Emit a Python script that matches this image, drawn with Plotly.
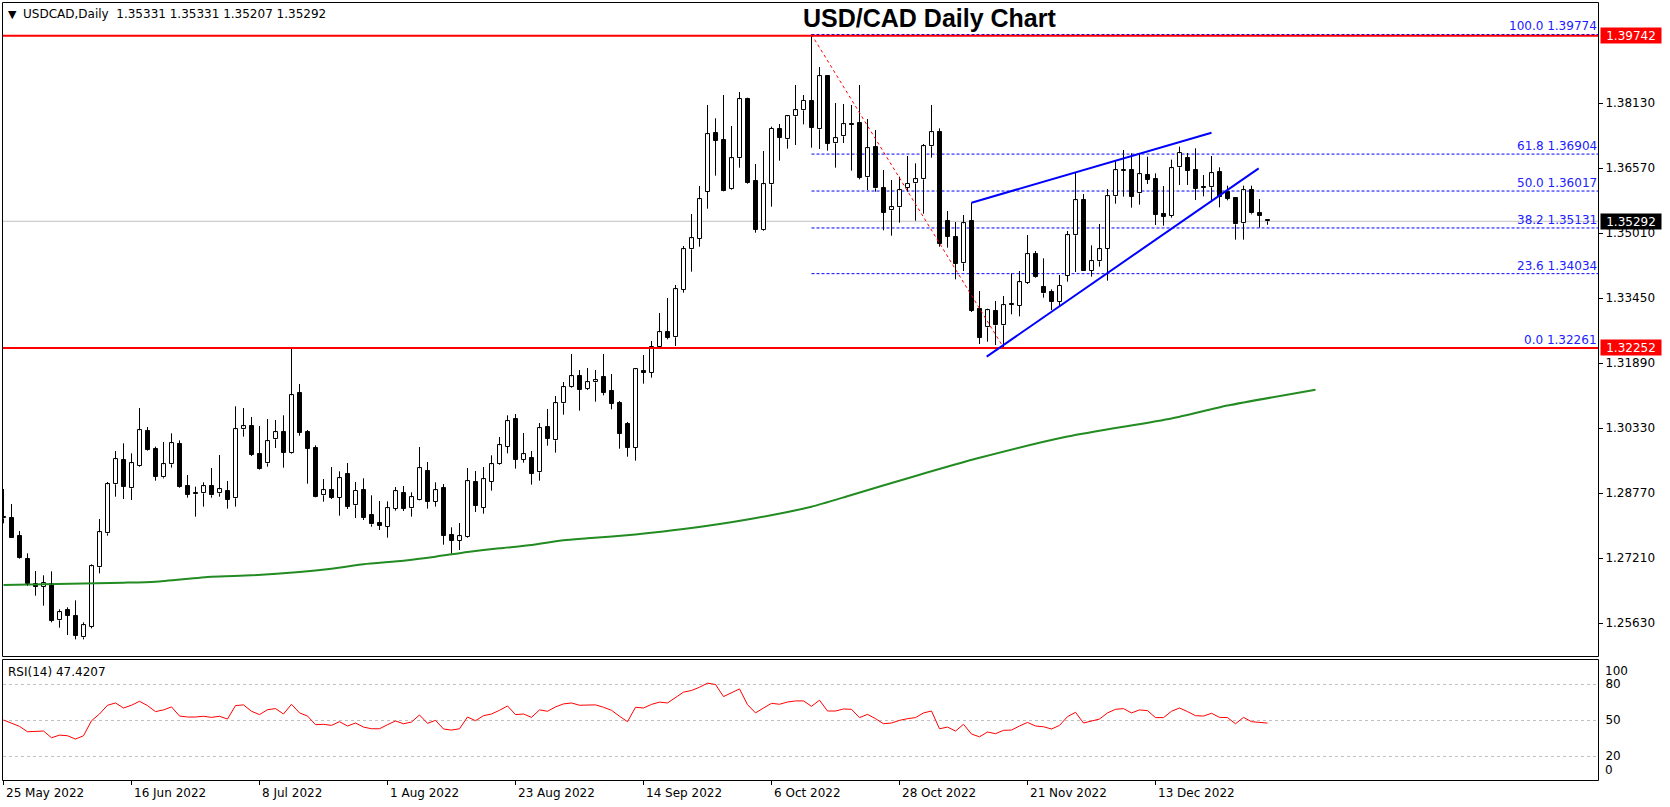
import plotly.graph_objects as go

W, H = 1670, 807

# ---------------- data ----------------
OPEN = [1.28186, 1.28162, 1.27730, 1.27178, 1.26586, 1.26522, 1.26578, 1.25714, 1.25954, 1.25810,
        1.25306, 1.25562, 1.26986, 1.27802, 1.28978, 1.29554, 1.28882, 1.29426, 1.30250, 1.29818,
        1.29146, 1.29458, 1.29938, 1.28938, 1.28762, 1.28762, 1.28930, 1.28762, 1.28810, 1.28642,
        1.30298, 1.30370, 1.29698, 1.29482, 1.30058, 1.30226, 1.29738, 1.31162, 1.30226, 1.29842,
        1.28714, 1.28834, 1.28658, 1.29226, 1.28474, 1.28834, 1.28242, 1.28050, 1.27962, 1.28394,
        1.28762, 1.28402, 1.28610, 1.29290, 1.28562, 1.28882, 1.27754, 1.27626, 1.27706, 1.29026,
        1.28418, 1.29042, 1.29458, 1.29882, 1.30538, 1.29570, 1.29602, 1.29266, 1.30346, 1.30034,
        1.30922, 1.31306, 1.31570, 1.31274, 1.31426, 1.31546, 1.31210, 1.30930, 1.30418, 1.29858,
        1.31690, 1.31658, 1.32282, 1.32626, 1.32506, 1.33642, 1.34618, 1.34874, 1.36002, 1.37410,
        1.37242, 1.36058, 1.36802, 1.38226, 1.36250, 1.35082, 1.36178, 1.37506, 1.37258, 1.37810,
        1.37954, 1.38178, 1.37498, 1.38770, 1.37162, 1.37330, 1.37626, 1.37642, 1.36346, 1.37066,
        1.36082, 1.35554, 1.35626, 1.36098, 1.36202, 1.36298, 1.37090, 1.37426, 1.35290, 1.34914,
        1.34282, 1.35298, 1.33186, 1.32746, 1.33130, 1.32794, 1.33290, 1.33266, 1.33818, 1.34498,
        1.33706, 1.33594, 1.33362, 1.33986, 1.34954, 1.35794, 1.34106, 1.34330, 1.34634, 1.35890,
        1.36514, 1.36514, 1.35962, 1.36394, 1.36298, 1.35466, 1.35426, 1.36586, 1.36810, 1.36522,
        1.36106, 1.36106, 1.36466, 1.35994, 1.35842, 1.35242, 1.36034, 1.35490, 1.35331]
HIGH = [1.28866, 1.28506, 1.27858, 1.27322, 1.26898, 1.26794, 1.26890, 1.25978, 1.26026, 1.26194,
        1.25666, 1.27058, 1.28146, 1.29034, 1.29778, 1.29962, 1.29722, 1.30810, 1.30354, 1.29882,
        1.29994, 1.30202, 1.30034, 1.29202, 1.28922, 1.29026, 1.29370, 1.29682, 1.29058, 1.30850,
        1.30810, 1.30594, 1.30378, 1.30546, 1.30522, 1.30634, 1.32258, 1.31386, 1.30282, 1.29914,
        1.29106, 1.29394, 1.29290, 1.29490, 1.29034, 1.29122, 1.28714, 1.28578, 1.28570, 1.28914,
        1.28938, 1.28786, 1.29874, 1.29514, 1.29026, 1.28986, 1.27946, 1.28050, 1.29370, 1.29298,
        1.29394, 1.29674, 1.30114, 1.30634, 1.30666, 1.30210, 1.29778, 1.30450, 1.30786, 1.31098,
        1.31434, 1.32106, 1.31722, 1.31770, 1.31722, 1.32106, 1.31626, 1.30978, 1.30474, 1.31770,
        1.32082, 1.32418, 1.33090, 1.33450, 1.33762, 1.34698, 1.35466, 1.36138, 1.38082, 1.37762,
        1.38322, 1.37578, 1.38394, 1.38258, 1.36666, 1.36978, 1.37562, 1.37626, 1.37826, 1.38562,
        1.38322, 1.39774, 1.38994, 1.38802, 1.38130, 1.38106, 1.38082, 1.38562, 1.37746, 1.37482,
        1.36522, 1.36282, 1.36362, 1.36858, 1.36682, 1.37146, 1.38082, 1.37522, 1.35538, 1.35274,
        1.35442, 1.35738, 1.33618, 1.33194, 1.33378, 1.33498, 1.34042, 1.34098, 1.34962, 1.34578,
        1.34402, 1.33658, 1.34002, 1.35058, 1.36458, 1.35946, 1.34714, 1.35226, 1.36066, 1.36746,
        1.37002, 1.36922, 1.36922, 1.36842, 1.36442, 1.36138, 1.36770, 1.37082, 1.36930, 1.37042,
        1.36402, 1.36858, 1.36586, 1.36146, 1.35858, 1.36146, 1.36146, 1.35826, 1.35331]
LOW = [1.28042, 1.27690, 1.27194, 1.26546, 1.26306, 1.26066, 1.25666, 1.25538, 1.25362, 1.25258,
       1.25258, 1.25522, 1.26842, 1.27746, 1.28682, 1.28626, 1.28602, 1.29402, 1.29786, 1.29066,
       1.29120, 1.29378, 1.28898, 1.28658, 1.28202, 1.28442, 1.28658, 1.28682, 1.28394, 1.28442,
       1.30122, 1.29658, 1.29330, 1.29402, 1.29850, 1.29378, 1.29714, 1.30146, 1.28994, 1.28666,
       1.28562, 1.28626, 1.28226, 1.28386, 1.28170, 1.28122, 1.27962, 1.27882, 1.27698, 1.28346,
       1.28338, 1.28202, 1.28594, 1.28394, 1.28442, 1.27530, 1.27322, 1.27402, 1.27690, 1.28314,
       1.28274, 1.28826, 1.29442, 1.29722, 1.29354, 1.29498, 1.28970, 1.29066, 1.29906, 1.29738,
       1.30650, 1.31290, 1.30746, 1.31242, 1.30962, 1.31114, 1.30778, 1.29834, 1.29642, 1.29546,
       1.31394, 1.31538, 1.32266, 1.32458, 1.32298, 1.33578, 1.34082, 1.34682, 1.35594, 1.36386,
       1.36010, 1.36042, 1.36578, 1.36194, 1.35018, 1.35066, 1.35642, 1.36746, 1.37034, 1.37122,
       1.37618, 1.37058, 1.37026, 1.36986, 1.36578, 1.37170, 1.36506, 1.36298, 1.36042, 1.36002,
       1.35074, 1.34946, 1.35258, 1.36002, 1.35306, 1.35474, 1.36818, 1.34682, 1.34658, 1.33898,
       1.34098, 1.33114, 1.32346, 1.32402, 1.32322, 1.32261, 1.33058, 1.33010, 1.33786, 1.33938,
       1.33458, 1.33162, 1.33258, 1.33842, 1.34074, 1.34098, 1.33962, 1.34202, 1.33866, 1.35714,
       1.35882, 1.35618, 1.35690, 1.36186, 1.35202, 1.35186, 1.35378, 1.36162, 1.36162, 1.35802,
       1.35890, 1.35762, 1.35626, 1.35794, 1.34850, 1.34850, 1.35458, 1.35138, 1.35207]
CLOSE = [1.28162, 1.27698, 1.27218, 1.26578, 1.26522, 1.26618, 1.25706, 1.25906, 1.25826, 1.25346,
         1.25594, 1.27010, 1.27826, 1.28978, 1.29578, 1.28922, 1.29482, 1.30274, 1.29810, 1.29162,
         1.29458, 1.29962, 1.28922, 1.28730, 1.28738, 1.28930, 1.28714, 1.28858, 1.28610, 1.30298,
         1.30370, 1.29682, 1.29354, 1.30010, 1.30226, 1.29738, 1.31114, 1.30218, 1.29834, 1.28682,
         1.28834, 1.28658, 1.29122, 1.28442, 1.28826, 1.28178, 1.28018, 1.27986, 1.28402, 1.28810,
         1.28394, 1.28666, 1.29362, 1.28562, 1.28834, 1.27746, 1.27626, 1.27730, 1.29050, 1.28466,
         1.29098, 1.29458, 1.29914, 1.30490, 1.29570, 1.29698, 1.29234, 1.30322, 1.30074, 1.30922,
         1.31306, 1.31570, 1.31250, 1.31426, 1.31474, 1.31178, 1.30914, 1.30194, 1.29858, 1.31738,
         1.31658, 1.32282, 1.32626, 1.32498, 1.33658, 1.34618, 1.34882, 1.35818, 1.37378, 1.37226,
         1.36026, 1.36802, 1.38218, 1.36210, 1.35082, 1.36178, 1.37506, 1.37298, 1.37810, 1.37954,
         1.38178, 1.37538, 1.38770, 1.37154, 1.37282, 1.37618, 1.37610, 1.36338, 1.37042, 1.36082,
         1.35498, 1.35626, 1.36034, 1.36194, 1.36298, 1.37090, 1.37426, 1.34754, 1.34922, 1.34274,
         1.35242, 1.33138, 1.32498, 1.33154, 1.32794, 1.33274, 1.33282, 1.33826, 1.34498, 1.33954,
         1.33562, 1.33362, 1.33746, 1.34954, 1.35794, 1.34106, 1.34330, 1.34618, 1.35890, 1.36514,
         1.36522, 1.35882, 1.36418, 1.36290, 1.35450, 1.35402, 1.36562, 1.36922, 1.36506, 1.36074,
         1.36098, 1.36442, 1.35882, 1.35834, 1.35218, 1.36034, 1.35482, 1.35426, 1.35292]
RSI = [50.0, 47.5, 44.7, 40.2, 40.2, 40.8, 35.2, 37.4, 36.9, 34.1,
       36.9, 49.4, 55.0, 62.3, 64.2, 60.0, 62.3, 65.6, 62.0, 57.0,
       58.4, 60.9, 53.3, 52.5, 52.5, 53.1, 52.2, 53.1, 50.8, 62.0,
       62.6, 57.3, 54.5, 58.6, 59.5, 55.0, 63.1, 55.9, 53.3, 46.1,
       46.4, 45.5, 48.6, 45.0, 47.5, 44.1, 42.7, 42.7, 46.1, 49.2,
       46.9, 48.3, 54.2, 47.2, 49.7, 42.5, 41.6, 42.7, 52.5, 49.4,
       53.6, 55.0, 58.1, 61.7, 54.5, 55.0, 52.2, 58.4, 57.3, 60.9,
       63.4, 64.2, 62.3, 62.6, 62.6, 60.6, 58.1, 53.1, 48.6, 60.6,
       60.0, 63.0, 64.9, 64.2, 68.4, 73.2, 74.6, 77.3, 80.7, 79.6,
       69.5, 72.6, 75.9, 62.8, 55.9, 60.0, 63.9, 63.1, 65.0, 65.9,
       65.9, 61.4, 66.5, 57.5, 57.5, 59.2, 58.9, 52.0, 54.7, 51.1,
       46.9, 47.5, 49.7, 51.1, 52.0, 55.9, 57.5, 42.7, 44.1, 40.8,
       46.4, 38.3, 36.0, 40.0, 38.6, 41.4, 41.6, 45.0, 48.0, 45.0,
       44.4, 42.5, 45.5, 52.8, 56.4, 47.5, 49.2, 50.8, 55.9, 58.9,
       59.5, 55.9, 58.4, 57.8, 52.0, 52.0, 57.3, 60.0, 57.0, 53.6,
       53.3, 55.6, 52.2, 52.0, 46.9, 52.2, 48.6, 48.3, 47.4207]
MA_BARS = [0, 15, 19, 26, 31, 37, 41, 45, 50, 54, 58, 62, 66, 70, 73, 79, 85, 93,
           101, 106, 114, 122, 133, 146, 153, 164]
MA_VALUES = [1.26562, 1.26618, 1.26642, 1.26762, 1.26794, 1.26874, 1.26954, 1.27062, 1.27146,
             1.27242, 1.27354, 1.27442, 1.27522, 1.27634, 1.27682, 1.27776, 1.27904, 1.28134,
             1.28440, 1.28722, 1.29180, 1.29615, 1.30126, 1.30560, 1.30868, 1.31250]

PRICE_TICKS = [1.38130, 1.36570, 1.35010, 1.33450, 1.31890, 1.30330, 1.28770, 1.27210, 1.25650]
PRICE_TICK_LABELS = ["1.38130", "1.36570", "1.35010", "1.33450", "1.31890", "1.30330",
                     "1.28770", "1.27210", "1.25630"]
DATE_TICK_BARS = [0, 16, 32, 48, 64, 80, 96, 112, 128, 144]
DATE_LABELS = ["25 May 2022", "16 Jun 2022", "8 Jul 2022", "1 Aug 2022", "23 Aug 2022",
               "14 Sep 2022", "6 Oct 2022", "28 Oct 2022", "21 Nov 2022", "13 Dec 2022"]
RSI_LEVELS = [20, 50, 80]

FIB_PCT = ["100.0", "61.8", "50.0", "38.2", "23.6", "0.0"]
FIB_PRICES = [1.39774, 1.36904, 1.36017, 1.35131, 1.34034, 1.32261]
FIB_START_BAR, FIB_END_BAR = 101, 125
RESISTANCE, SUPPORT = 1.39742, 1.32252
WEDGE_UPPER_BARS, WEDGE_UPPER_PRICES = [121, 151], [1.35738, 1.37418]
WEDGE_LOWER_BARS, WEDGE_LOWER_PRICES = [122.9, 156.9], [1.32042, 1.36562]

# ---------------- geometry ----------------
FONT = "DejaVu Sans"
PLOT_L, PLOT_R = 3, 1598
MAIN_T, MAIN_B = 2, 656
RSI_T, RSI_B = 660, 780
BAR_PX, X0_PX = 8.0, 3.5
X_MIN = (PLOT_L - X0_PX) / BAR_PX
X_MAX = (PLOT_R - X0_PX) / BAR_PX
PX_PER_UNIT = 4166.67
Y_MAX = PRICE_TICKS[0] + (103 - MAIN_T) / PX_PER_UNIT
Y_MIN = Y_MAX - (MAIN_B - MAIN_T) / PX_PER_UNIT


def px_x(px):
    return px / W


def px_y(py):
    return (H - py) / H


idx = list(range(len(OPEN)))
up = [i for i in idx if CLOSE[i] >= OPEN[i]]
dn = [i for i in idx if CLOSE[i] < OPEN[i]]
MIN_BODY = 0.00025


def bodies(ids):
    base, hgt = [], []
    for i in ids:
        lo, hi = min(OPEN[i], CLOSE[i]), max(OPEN[i], CLOSE[i])
        h = max(hi - lo, MIN_BODY)
        base.append((lo + hi) / 2 - h / 2)
        hgt.append(h)
    return base, hgt


wx, wy = [], []
for i in idx:
    top, bot = max(OPEN[i], CLOSE[i]), min(OPEN[i], CLOSE[i])
    if HIGH[i] > top:
        wx += [i, i, None]
        wy += [top, HIGH[i], None]
    if LOW[i] < bot:
        wx += [i, i, None]
        wy += [LOW[i], bot, None]

fig = go.Figure()
fig.add_trace(go.Scatter(x=MA_BARS, y=MA_VALUES, mode="lines",
                         line=dict(color="#228B22", width=2, shape="spline", smoothing=0.6),
                         xaxis="x", yaxis="y"))
b_up, h_up = bodies(up)
fig.add_trace(go.Bar(x=up, y=h_up, base=b_up, width=0.5,
                     marker=dict(color="white", line=dict(color="black", width=1)),
                     xaxis="x", yaxis="y"))
b_dn, h_dn = bodies(dn)
fig.add_trace(go.Bar(x=dn, y=h_dn, base=b_dn, width=0.5,
                     marker=dict(color="black", line=dict(color="black", width=1)),
                     xaxis="x", yaxis="y"))
fig.add_trace(go.Scatter(x=wx, y=wy, mode="lines", line=dict(color="black", width=1),
                         xaxis="x", yaxis="y", connectgaps=False))
fig.add_trace(go.Scatter(x=idx, y=RSI, mode="lines", line=dict(color="red", width=1),
                         xaxis="x2", yaxis="y2"))

shapes = []
# current price line
shapes.append(dict(type="line", xref="paper", yref="y", x0=px_x(PLOT_L), x1=px_x(PLOT_R),
                   y0=CLOSE[-1], y1=CLOSE[-1], line=dict(color="#c0c0c0", width=1), layer="below"))
# fib levels
for p in FIB_PRICES:
    shapes.append(dict(type="line", xref="x", yref="y", x0=FIB_START_BAR, x1=X_MAX, y0=p, y1=p,
                       line=dict(color="blue", width=1, dash="3px,2px"), layer="below"))
# fib diagonal
shapes.append(dict(type="line", xref="x", yref="y", x0=FIB_START_BAR, y0=FIB_PRICES[0],
                   x1=FIB_END_BAR, y1=FIB_PRICES[-1], line=dict(color="red", width=1, dash="dot")))
# support / resistance
for p in (RESISTANCE, SUPPORT):
    shapes.append(dict(type="line", xref="paper", yref="y", x0=px_x(PLOT_L), x1=px_x(PLOT_R),
                       y0=p, y1=p, line=dict(color="red", width=2)))
# wedge
shapes.append(dict(type="line", xref="x", yref="y", x0=WEDGE_UPPER_BARS[0], y0=WEDGE_UPPER_PRICES[0],
                   x1=WEDGE_UPPER_BARS[1], y1=WEDGE_UPPER_PRICES[1], line=dict(color="blue", width=2)))
shapes.append(dict(type="line", xref="x", yref="y", x0=WEDGE_LOWER_BARS[0], y0=WEDGE_LOWER_PRICES[0],
                   x1=WEDGE_LOWER_BARS[1], y1=WEDGE_LOWER_PRICES[1], line=dict(color="blue", width=2)))
# panel frames
shapes.append(dict(type="rect", xref="paper", yref="paper", x0=px_x(2.5), x1=px_x(PLOT_R + 0.5),
                   y0=px_y(MAIN_B + 0.5), y1=px_y(2.5), line=dict(color="black", width=1)))
shapes.append(dict(type="rect", xref="paper", yref="paper", x0=px_x(2.5), x1=px_x(PLOT_R + 0.5),
                   y0=px_y(RSI_B + 0.5), y1=px_y(RSI_T - 0.5), line=dict(color="black", width=1)))

ann = []
ann.append(dict(text="<b>USD/CAD Daily Chart</b>", xref="paper", yref="paper", x=px_x(929), y=px_y(18),
                xanchor="center", yanchor="middle", showarrow=False,
                font=dict(family="Liberation Sans", size=25, color="black")))
ann.append(dict(text="▼", xref="paper", yref="paper", x=px_x(6), y=px_y(14), xanchor="left",
                yanchor="middle", showarrow=False, font=dict(family=FONT, size=11, color="black")))
hdr = "USDCAD,Daily\u00a0\u00a0%.5f %.5f %.5f %.5f" % (OPEN[-1], HIGH[-1], LOW[-1], CLOSE[-1])
ann.append(dict(text=hdr, xref="paper", yref="paper", x=px_x(21), y=px_y(14), xanchor="left",
                yanchor="middle", showarrow=False, font=dict(family=FONT, size=12, color="black")))
ann.append(dict(text="RSI(14) %.4f" % RSI[-1], xref="paper", yref="paper", x=px_x(6), y=px_y(672),
                xanchor="left", yanchor="middle", showarrow=False,
                font=dict(family=FONT, size=12, color="black")))
for pct, p in zip(FIB_PCT, FIB_PRICES):
    ann.append(dict(text="%s %.5f" % (pct, p), xref="paper", yref="y", x=px_x(1598), y=p,
                    xanchor="right", yanchor="bottom", showarrow=False, borderpad=0,
                    font=dict(family=FONT, size=12, color="#2020ff")))
for p, bg in ((RESISTANCE, "red"), (CLOSE[-1], "black"), (SUPPORT, "red")):
    ann.append(dict(text="%.5f" % p, xref="paper", yref="y", x=px_x(1631), y=p, xanchor="center",
                    yanchor="middle", showarrow=False, bgcolor=bg, width=60, height=15, borderpad=0,
                    font=dict(family=FONT, size=12, color="white")))
for lbl, py in (("100", 671), ("0", 770)):
    ann.append(dict(text=lbl, xref="paper", yref="paper", x=px_x(1603), y=px_y(py), xanchor="left",
                    yanchor="middle", showarrow=False, font=dict(family=FONT, size=12, color="black")))
for b, lbl in zip(DATE_TICK_BARS, DATE_LABELS):
    ann.append(dict(text=lbl, xref="x2", yref="paper", x=b, y=px_y(793), xanchor="left",
                    yanchor="middle", showarrow=False, font=dict(family=FONT, size=12, color="black")))

fig.update_layout(
    width=W, height=H, autosize=False, margin=dict(l=0, r=0, t=0, b=0, pad=0),
    paper_bgcolor="white", plot_bgcolor="white", showlegend=False, hovermode=False,
    barmode="overlay", bargap=0,
    font=dict(family=FONT, size=12, color="black"),
    xaxis=dict(domain=[px_x(PLOT_L), px_x(PLOT_R)], range=[X_MIN, X_MAX], anchor="y",
               showticklabels=False, ticks="", showgrid=False, zeroline=False, showline=False,
               matches="x2"),
    xaxis2=dict(domain=[px_x(PLOT_L), px_x(PLOT_R)], range=[X_MIN, X_MAX], anchor="y2",
                tickvals=DATE_TICK_BARS, showticklabels=False, ticks="outside", ticklen=4,
                tickcolor="black", showgrid=False, zeroline=False, showline=False),
    yaxis=dict(domain=[px_y(MAIN_B), px_y(MAIN_T)], range=[Y_MIN, Y_MAX], anchor="x", side="right",
               tickvals=PRICE_TICKS, ticktext=PRICE_TICK_LABELS, ticks="outside", ticklen=4,
               tickcolor="black", showgrid=False, zeroline=False, showline=False,
               tickfont=dict(family=FONT, size=12, color="black")),
    yaxis2=dict(domain=[px_y(RSI_B), px_y(RSI_T)], range=[0, 100], anchor="x2", side="right",
                tickvals=RSI_LEVELS, ticktext=[str(v) for v in RSI_LEVELS], ticks="outside",
                ticklen=4, tickcolor="rgba(0,0,0,0)", showgrid=True, gridcolor="#c0c0c0",
                griddash="3px,3px", gridwidth=1, zeroline=False, showline=False,
                tickfont=dict(family=FONT, size=12, color="black")),
    shapes=shapes, annotations=ann,
)

fig.write_html("out.html")
